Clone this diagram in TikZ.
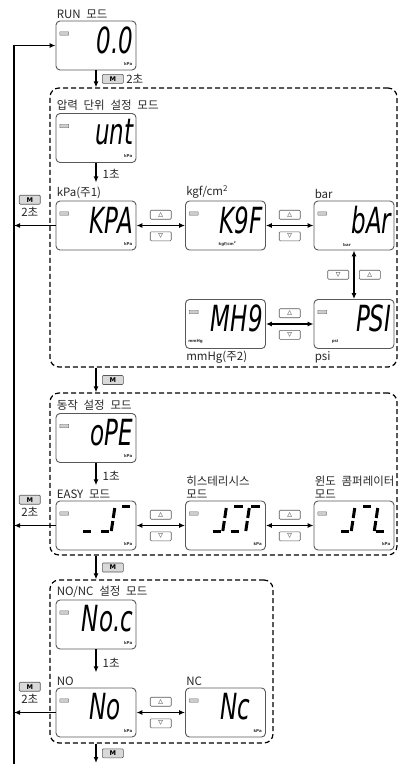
\documentclass[tikz,border=0pt]{standalone}
\usepackage{fontspec}
\setmainfont{Noto Sans CJK KR}
\newfontfamily\segfont{DejaVu Sans}
\usetikzlibrary{positioning,arrows.meta}

\tikzset{
  lcd/.style={draw=black!65, fill=white, rounded corners=4pt, line width=0.9pt,
    minimum width=80pt, minimum height=49pt, inner sep=0pt},
  icon/.style={draw=black!60, fill=black!20, line width=0.4pt, rounded corners=0.5pt,
    minimum width=9pt, minimum height=3.5pt, inner sep=0pt},
  reading/.style={font=\segfont\itshape\fontsize{36}{36}\selectfont,
    xscale=0.64, inner sep=0pt},
  unitlbl/.style={font=\segfont\bfseries\fontsize{4}{4}\selectfont, inner sep=0pt, text=black!80},
  modelbl/.style={font=\fontsize{11.5}{13}\selectfont,
    execute at begin node={\spaceskip=0.5em\relax},
    inner sep=1pt, text=black!85, align=left},
  secs/.style={font=\fontsize{11.5}{12}\selectfont, inner sep=1pt, text=black!85},
  grp/.style={draw, dash pattern=on 5pt off 3pt, rounded corners=9pt, line width=1.2pt},
  btn/.style={draw=black!65, fill=white, rounded corners=1pt, line width=0.6pt,
    minimum width=21pt, minimum height=9pt, inner sep=0pt,
    font=\segfont\fontsize{6}{6}\selectfont},
  mbtn/.style={btn, fill=black!15, font=\segfont\bfseries\fontsize{6.5}{6.5}\selectfont},
  flow/.style={-{Latex[length=6pt,width=5pt]}, line width=1.3pt},
  dflow/.style={{Latex[length=6pt,width=5pt]}-{Latex[length=6pt,width=5pt]}, line width=1.3pt},
  segline/.style={line width=3pt},
  seg a/.code={\draw[segline] (1.8pt,26.4pt) -- (10.2pt,26.4pt);},
  seg b/.code={\draw[segline] (12pt,15pt) -- (12pt,25pt);},
  seg c/.code={\draw[segline] (12pt,2pt) -- (12pt,12pt);},
  seg d/.code={\draw[segline] (1.8pt,1.6pt) -- (10.2pt,1.6pt);},
  seg e/.code={\draw[segline] (0pt,2pt) -- (0pt,12pt);},
  seg f/.code={\draw[segline] (0pt,15pt) -- (0pt,25pt);}
}

% display: name, position, reading, unit, unit anchor, unit shift
\newcommand{\lcd}[6]{%
  \node[lcd] (#1) at (#2) {};
  \node[icon, anchor=north west] (#1-i) at ([shift={(4pt,-11pt)}]#1.north west) {};
  \node[reading, anchor=east] (#1-r) at ([shift={(-3pt,5.5pt)}]#1.east) {#3};
  \node[unitlbl, anchor=#5] (#1-u) at ([shift={#6}]#1.#5) {#4};
}

% segment pictogram: bottom left x, y, segments
\newcommand{\segs}[3]{%
  \begin{scope}[shift={(#1,#2)}, xslant=0.15]
    \tikzset{#3}
  \end{scope}}

\begin{document}
\begin{tikzpicture}[x=1pt, y=-1pt]
\useasboundingbox (0,0) rectangle (398,764);

% mode groups
\node[grp, minimum width=347pt, minimum height=279pt] (g1) at (223.5,227.5) {};
\node[grp, minimum width=347pt, minimum height=162pt] (g2) at (223.5,474) {};
\node[grp, minimum width=223pt, minimum height=163pt] (g3) at (161.5,661.5) {};

% displays
\lcd{run}{96,45.5}{0.0}{kPa}{south east}{(-4pt,5pt)}
\lcd{unt}{96,138}{unt}{kPa}{south east}{(-4pt,5pt)}
\lcd{kpa}{96,225.5}{KPA}{kPa}{south east}{(-4pt,5pt)}
\lcd{kgf}{225.5,225.5}{K9F}{kgf/cm\textsuperscript{2}}{south}{(2pt,4pt)}
\lcd{bar}{354,225.5}{bAr}{bar}{south}{(-7pt,4pt)}
\lcd{mhg}{225.5,324}{MH9}{mmHg}{south west}{(3pt,5pt)}
\lcd{psi}{354,324}{PSI}{psi}{south west}{(18pt,5pt)}
\lcd{ope}{96,438}{oPE}{kPa}{south east}{(-4pt,5pt)}
\lcd{easy}{96,525.5}{}{kPa}{south east}{(-4pt,5pt)}
\lcd{hys}{225.5,525.5}{}{kPa}{south east}{(-4pt,5pt)}
\lcd{win}{354,525.5}{}{kPa}{south east}{(-4pt,5pt)}
\lcd{noc}{96,624.5}{No.c}{kPa}{south east}{(-4pt,5pt)}
\lcd{no}{96,712.5}{No\hphantom{c}}{kPa}{south east}{(-4pt,5pt)}
\lcd{nc}{225.5,712.5}{Nc\hphantom{c}}{kPa}{south east}{(-4pt,5pt)}

% output mode pictograms
\segs{81}{533}{seg d}
\segs{99}{533}{seg b, seg c, seg d}
\segs{116}{533}{seg a}
\segs{210.5}{533}{seg b, seg c, seg d}
\segs{228.5}{533}{seg a, seg d}
\segs{245.5}{533}{seg a, seg e, seg f}
\segs{339}{533}{seg b, seg c, seg d}
\segs{357}{533}{seg a}
\segs{374}{533}{seg d, seg e, seg f}

% labels
\node[modelbl, anchor=south west] (runl) at ([yshift=1pt]run.north west) {RUN 모드};
\node[modelbl, anchor=south west] (g1l) at ([yshift=1pt]unt.north west) {압력 단위 설정 모드};
\node[modelbl, anchor=south west] (kpal) at ([yshift=1pt]kpa.north west) {kPa(주1)};
\node[modelbl, anchor=south west] (kgfl) at ([yshift=1pt]kgf.north west) {kgf/cm\textsuperscript{2}};
\node[modelbl, anchor=south west] (barl) at ([yshift=1pt]bar.north west) {bar};
\node[modelbl, anchor=north west] (mhgl) at ([yshift=-1pt]mhg.south west) {mmHg(주2)};
\node[modelbl, anchor=north west] (psil) at ([yshift=-1pt]psi.south west) {psi};
\node[modelbl, anchor=south west] (g2l) at ([yshift=1pt]ope.north west) {동작 설정 모드};
\node[modelbl, anchor=south west] (easyl) at ([yshift=1pt]easy.north west) {EASY 모드};
\node[modelbl, anchor=south west] (hysl) at ([yshift=1pt]hys.north west) {히스테리시스\\모드};
\node[modelbl, anchor=south west] (winl) at ([yshift=1pt]win.north west) {윈도 콤퍼레이터\\모드};
\node[modelbl, anchor=south west] (g3l) at ([yshift=1pt]noc.north west) {NO/NC 설정 모드};
\node[modelbl, anchor=south west] (nol) at ([yshift=1pt]no.north west) {NO};
\node[modelbl, anchor=south west] (ncl) at ([yshift=1pt]nc.north west) {NC};

% mode changes
\coordinate (loop) at (14,764);
\coordinate (exit) at (96,763);
\draw[flow] (loop) |- (run);
\draw[flow] (run) -- (run |- g1.north) node[mbtn, midway, right=6pt] (m1) {M}
  node[secs, right=1pt of m1] (t1) {2초};
\draw[flow] (g1.south -| ope) -- (g2.north -| ope) node[mbtn, midway, right=6pt] (m2) {M};
\draw[flow] (g2.south -| noc) -- (g3.north -| noc) node[mbtn, midway, right=6pt] (m3) {M};
\draw[flow] (g3.south -| noc) -- (exit) node[mbtn, midway, right=6pt] (m4) {M};

\draw[flow, shorten >=3pt] (unt) -- (unt |- kpal.north) node[secs, midway, right=5pt] (t2) {1초};
\draw[flow, shorten >=3pt] (ope) -- (ope |- easyl.north) node[secs, midway, right=5pt] (t3) {1초};
\draw[flow, shorten >=3pt] (noc) -- (noc |- nol.north) node[secs, midway, right=5pt] (t4) {1초};

\draw[flow] (kpa) -- (kpa -| loop) node[mbtn, pos=0.62, above=21pt] (m5) {M}
  node[secs, below=1pt of m5] (t5) {2초};
\draw[flow] (easy) -- (easy -| loop) node[mbtn, pos=0.62, above=21pt] (m6) {M}
  node[secs, below=1pt of m6] (t6) {2초};
\draw[flow] (no) -- (no -| loop) node[mbtn, pos=0.62, above=21pt] (m7) {M}
  node[secs, below=1pt of m7] (t7) {2초};

% unit and mode selection
\draw[dflow] (kpa) -- (kgf) node[btn, midway, above=6pt] (u1) {△} node[btn, midway, below=6pt] (d1) {▽};
\draw[dflow] (kgf) -- (bar) node[btn, midway, above=6pt] (u2) {△} node[btn, midway, below=6pt] (d2) {▽};
\draw[dflow] (bar) -- (psi) node[btn, midway, left=5pt] (d3) {▽} node[btn, midway, right=5pt] (u3) {△};
\draw[dflow] (mhg) -- (psi) node[btn, midway, above=6pt] (u4) {△} node[btn, midway, below=6pt] (d4) {▽};
\draw[dflow] (easy) -- (hys) node[btn, midway, above=6pt] (u5) {△} node[btn, midway, below=6pt] (d5) {▽};
\draw[dflow] (hys) -- (win) node[btn, midway, above=6pt] (u6) {△} node[btn, midway, below=6pt] (d6) {▽};
\draw[dflow] (no) -- (nc) node[btn, midway, above=6pt] (u7) {△} node[btn, midway, below=6pt] (d7) {▽};
\end{tikzpicture}
\end{document}
